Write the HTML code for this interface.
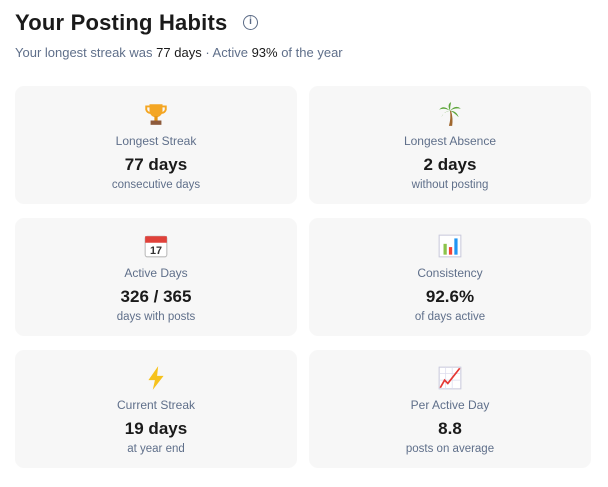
<!DOCTYPE html>
<html><head><meta charset="utf-8"><style>
body{margin:0;width:608px;height:487px;background:#fff;font-family:"Liberation Sans","DejaVu Sans",sans-serif;position:relative;overflow:hidden}
h1{position:absolute;left:15px;top:10px;margin:0;font-size:22px;font-weight:bold;color:#1a1a1a;letter-spacing:0.2px}
.info{position:absolute;left:243px;top:15px;width:15px;height:15px;border:1.5px solid #5a6a85;border-radius:50%;box-sizing:border-box;font-size:10px;color:#5a6a85;text-align:center;line-height:12px;font-weight:bold}
.sub{position:absolute;left:15px;top:45px;font-size:13px;color:#5f6f8a}
.sub b{font-weight:normal;color:#1a1a1a}
.card{position:absolute;width:282px;height:118px;background:#f7f7f7;border-radius:9px;text-align:center}
.ic{position:absolute;left:128px;top:15px;width:26px;height:26px}
.lb{position:absolute;left:0;right:0;top:48px;font-size:12px;color:#5f6f8a}
.v{position:absolute;left:0;right:0;top:69px;font-size:17px;font-weight:bold;color:#1a1a1a}
.s{position:absolute;left:0;right:0;top:93px;font-size:11.5px;color:#5f6f8a}
</style></head><body>
<h1>Your Posting Habits</h1><div class="info">i</div>
<div class="sub">Your longest streak was <b>77 days</b> · Active <b>93%</b> of the year</div>

<div class="card" style="left:15px;top:86px">
<svg class="ic" viewBox="0 0 24 24"><path d="M6 3h12v6a6 6 0 0 1-12 0z" fill="#f4a623"/><path d="M6 5H3v3a4 4 0 0 0 4 3M18 5h3v3a4 4 0 0 1-4 3" fill="none" stroke="#f4a623" stroke-width="1.8"/><rect x="10.5" y="14" width="3" height="4" fill="#e69512"/><rect x="7" y="18" width="10" height="4" fill="#8d5a3b"/></svg>
<div class="lb">Longest Streak</div><div class="v">77 days</div><div class="s">consecutive days</div></div>

<div class="card" style="left:309px;top:86px">
<svg class="ic" viewBox="0 0 24 24"><path d="M12 9q1 7-1 14h3q1-7-1-14" fill="#a0672e"/><path d="M12 9Q6 3 2 8Q7 6 12 9Q9 3 13 1Q12 5 12 9Q17 3 22 7Q16 6 12 9Q18 9 20 15Q15 10 12 9Q6 10 4 15Q7 9 12 9" fill="#5da53a"/></svg>
<div class="lb">Longest Absence</div><div class="v">2 days</div><div class="s">without posting</div></div>

<div class="card" style="left:15px;top:218px">
<svg class="ic" viewBox="0 0 24 24"><rect x="2" y="3" width="20" height="19" rx="2" fill="#fff" stroke="#bbb"/><rect x="2" y="3" width="20" height="6" fill="#e0413a"/><text x="12" y="19.5" font-size="10" font-weight="bold" text-anchor="middle" fill="#333" font-family="Liberation Sans">17</text></svg>
<div class="lb">Active Days</div><div class="v">326 / 365</div><div class="s">days with posts</div></div>

<div class="card" style="left:309px;top:218px">
<svg class="ic" viewBox="0 0 24 24"><rect x="2" y="2" width="20" height="20" fill="#fff" stroke="#ccd"/><rect x="6" y="10" width="3" height="10" fill="#8bc34a"/><rect x="11" y="13" width="3" height="7" fill="#f44336"/><rect x="16" y="5" width="3" height="15" fill="#2196f3"/></svg>
<div class="lb">Consistency</div><div class="v">92.6%</div><div class="s">of days active</div></div>

<div class="card" style="left:15px;top:350px">
<svg class="ic" viewBox="0 0 24 24"><path d="M14 1L5 14h6l-2 9 10-13h-6z" fill="#f6c21c"/></svg>
<div class="lb">Current Streak</div><div class="v">19 days</div><div class="s">at year end</div></div>

<div class="card" style="left:309px;top:350px">
<svg class="ic" viewBox="0 0 24 24"><rect x="2" y="2" width="20" height="20" fill="#fff" stroke="#ccd"/><path d="M2 8h20M2 14h20M8 2v20M14 2v20" stroke="#dde" stroke-width="0.7"/><path d="M3 21l4-7 3 3 11-14" fill="none" stroke="#e53935" stroke-width="1.6"/></svg>
<div class="lb">Per Active Day</div><div class="v">8.8</div><div class="s">posts on average</div></div>
</body></html>
